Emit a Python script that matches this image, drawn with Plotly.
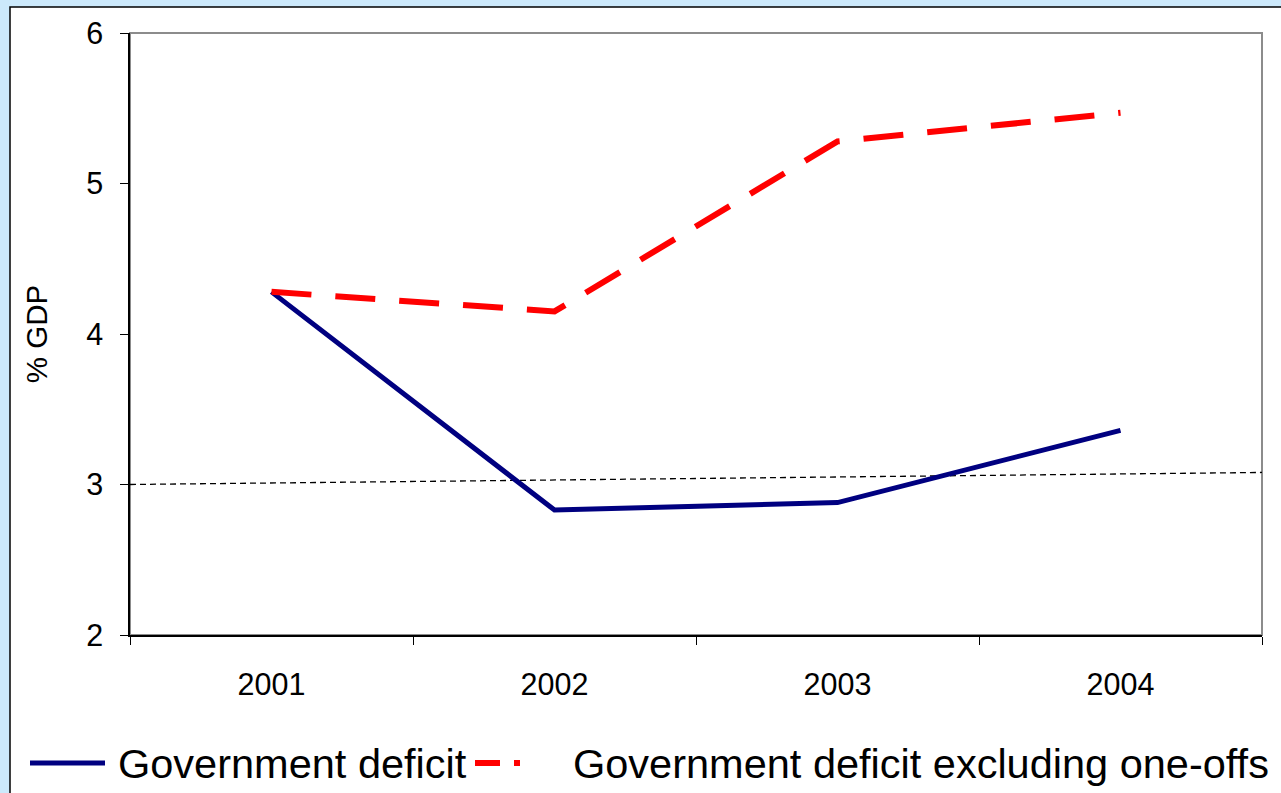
import plotly.graph_objects as go

# Government deficit, % of GDP
years = ["2001", "2002", "2003", "2004"]
deficit = [4.28, 2.83, 2.88, 3.36]
deficit_ex_one_offs = [4.28, 4.15, 5.28, 5.47]

# Reference line near the 3% threshold
ref_x = [-0.5, 3.5]
ref_y = [3.0, 3.08]

y_ticks = [2, 3, 4, 5, 6]

W, H = 1281, 793
ML, MR, MT, MB = 130, 19, 33, 158
PW, PH = W - ML - MR, H - MT - MB

FONT = "Liberation Sans, Arial, sans-serif"
NAVY = "#000080"
RED = "#FF0000"


def px_x(p):
    return (p - ML) / PW


def px_y(p):
    return (H - MB - p) / PH


x_idx = list(range(len(years)))

fig = go.Figure()

fig.add_trace(go.Scatter(
    x=ref_x, y=ref_y, mode="lines",
    line=dict(color="black", width=1.3, dash="6px,4px"),
    showlegend=False, hoverinfo="skip",
))
fig.add_trace(go.Scatter(
    x=x_idx, y=deficit, mode="lines", name="Government deficit",
    line=dict(color=NAVY, width=5), showlegend=False,
))
fig.add_trace(go.Scatter(
    x=x_idx, y=deficit_ex_one_offs, mode="lines",
    name="Government deficit excluding one-offs",
    line=dict(color=RED, width=6, dash="40px,24px"), showlegend=False,
))

shapes = [
    # white panel with black frame
    dict(type="rect", xref="paper", yref="paper", layer="below",
         x0=px_x(10), x1=px_x(W + 20), y0=px_y(H + 20), y1=px_y(7),
         fillcolor="white", line=dict(color="black", width=1.5)),
    # grey plot-area frame
    dict(type="rect", xref="paper", yref="paper", layer="below",
         x0=0, x1=1, y0=0, y1=1,
         fillcolor="rgba(0,0,0,0)", line=dict(color="#8c8c8c", width=2)),
    # legend samples
    dict(type="line", xref="paper", yref="paper",
         x0=px_x(30), x1=px_x(105), y0=px_y(763), y1=px_y(763),
         line=dict(color=NAVY, width=5)),
    dict(type="line", xref="paper", yref="paper",
         x0=px_x(475), x1=px_x(520), y0=px_y(763), y1=px_y(763),
         line=dict(color=RED, width=6, dash="25px,14px")),
]

annotations = [
    dict(text="Government deficit", xref="paper", yref="paper",
         x=px_x(116), y=px_y(763), xanchor="left", yanchor="middle",
         showarrow=False, font=dict(family=FONT, size=41.5, color="black")),
    dict(text="Government deficit excluding one-offs", xref="paper", yref="paper",
         x=px_x(571), y=px_y(763), xanchor="left", yanchor="middle",
         showarrow=False, font=dict(family=FONT, size=41.5, color="black")),
]

fig.update_layout(
    width=W, height=H,
    margin=dict(l=ML, r=MR, t=MT, b=MB, pad=0),
    paper_bgcolor="#CCE9FB", plot_bgcolor="white",
    font=dict(family=FONT, color="black"),
    shapes=shapes, annotations=annotations,
    showlegend=False,
)

fig.update_xaxes(
    range=[-0.5, 3.5], tickmode="array", tickvals=x_idx, ticktext=years,
    ticks="", showgrid=False, zeroline=False,
    showline=True, linecolor="black", linewidth=1.5,
    tickfont=dict(family=FONT, size=30.5, color="black"),
    ticklabelstandoff=22,
    minor=dict(tickmode="linear", tick0=-0.5, dtick=1, ticks="outside",
               ticklen=8, tickcolor="black", tickwidth=1, showgrid=False),
)

fig.update_yaxes(
    range=[2, 6], tickmode="array", tickvals=y_ticks,
    ticks="outside", ticklen=8, tickcolor="black", tickwidth=1,
    showgrid=False, zeroline=False,
    showline=True, linecolor="black", linewidth=1.5,
    tickfont=dict(family=FONT, size=30.5, color="black"),
    ticklabelstandoff=11,
    title=dict(text="% GDP", font=dict(family=FONT, size=29.5, color="black"),
               standoff=30),
)

fig.write_html("out.html")
